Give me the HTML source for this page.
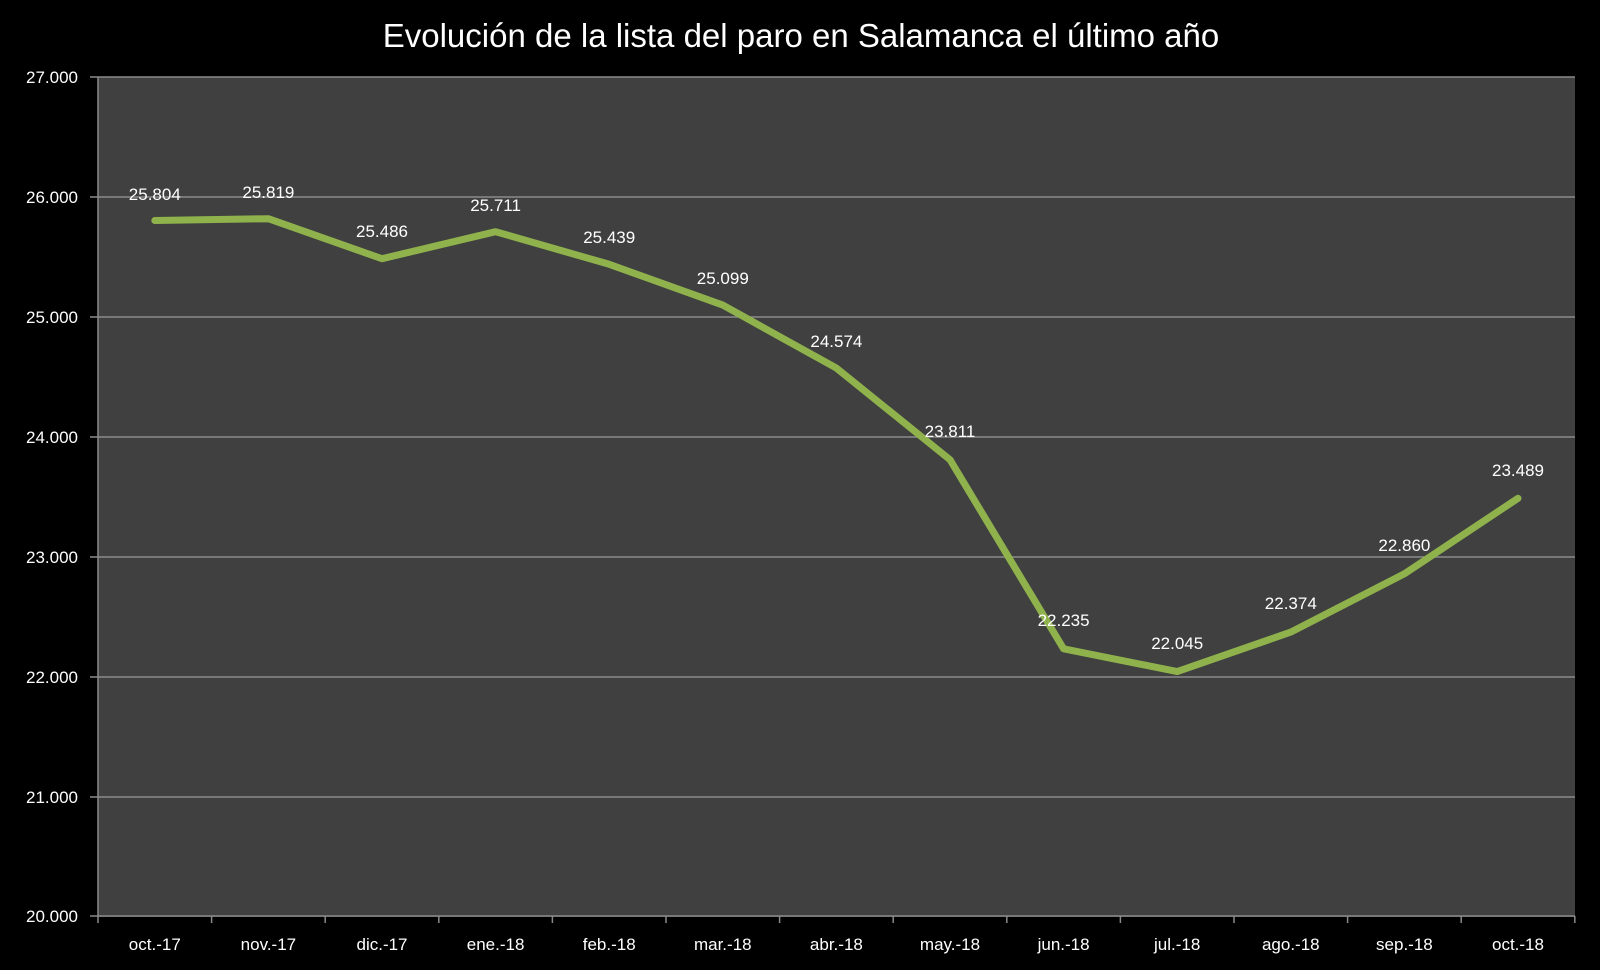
<!DOCTYPE html>
<html><head><meta charset="utf-8"><style>
html,body{margin:0;padding:0;background:#000;}
svg{display:block;}
text{font-family:"Liberation Sans",sans-serif;fill:#fff;}
</style></head><body>
<svg width="1600" height="970" viewBox="0 0 1600 970" xmlns="http://www.w3.org/2000/svg">
<rect width="1600" height="970" fill="#000"/>
<text x="801" y="47" font-size="33" text-anchor="middle">Evolución de la lista del paro en Salamanca el último año</text>
<rect x="98" y="77" width="1477" height="840" fill="#404040"/>
<g stroke="#8a8a8a" stroke-width="1.5">
<line x1="90" y1="77" x2="1575" y2="77"/>
<line x1="90" y1="197" x2="1575" y2="197"/>
<line x1="90" y1="317" x2="1575" y2="317"/>
<line x1="90" y1="437" x2="1575" y2="437"/>
<line x1="90" y1="557" x2="1575" y2="557"/>
<line x1="90" y1="677" x2="1575" y2="677"/>
<line x1="90" y1="797" x2="1575" y2="797"/>
<line x1="90" y1="916" x2="1575" y2="916"/>
<line x1="98" y1="77" x2="98" y2="923"/>
</g>
<g stroke="#8a8a8a" stroke-width="1.5">
<line x1="211.6" y1="916" x2="211.6" y2="923"/><line x1="325.2" y1="916" x2="325.2" y2="923"/><line x1="438.8" y1="916" x2="438.8" y2="923"/><line x1="552.4" y1="916" x2="552.4" y2="923"/><line x1="666" y1="916" x2="666" y2="923"/><line x1="779.6" y1="916" x2="779.6" y2="923"/><line x1="893.2" y1="916" x2="893.2" y2="923"/><line x1="1006.8" y1="916" x2="1006.8" y2="923"/><line x1="1120.4" y1="916" x2="1120.4" y2="923"/><line x1="1234" y1="916" x2="1234" y2="923"/><line x1="1347.6" y1="916" x2="1347.6" y2="923"/><line x1="1461.2" y1="916" x2="1461.2" y2="923"/><line x1="1574.8" y1="916" x2="1574.8" y2="923"/>
</g>
<g font-size="17" text-anchor="end">
<text x="78" y="83">27.000</text><text x="78" y="203">26.000</text><text x="78" y="323">25.000</text><text x="78" y="443">24.000</text><text x="78" y="563">23.000</text><text x="78" y="683">22.000</text><text x="78" y="803">21.000</text><text x="78" y="922">20.000</text>
</g>
<g font-size="17" text-anchor="middle">
<text x="154.8" y="950">oct.-17</text><text x="268.4" y="950">nov.-17</text><text x="382" y="950">dic.-17</text><text x="495.6" y="950">ene.-18</text><text x="609.2" y="950">feb.-18</text><text x="722.8" y="950">mar.-18</text><text x="836.4" y="950">abr.-18</text><text x="950" y="950">may.-18</text><text x="1063.6" y="950">jun.-18</text><text x="1177.2" y="950">jul.-18</text><text x="1290.8" y="950">ago.-18</text><text x="1404.4" y="950">sep.-18</text><text x="1518" y="950">oct.-18</text>
</g>
<polyline fill="none" stroke="#8fb24c" stroke-width="7" stroke-linejoin="round" stroke-linecap="round"
points="154.8,220.5 268.4,218.7 382,258.7 495.6,231.7 609.2,264.3 722.8,305.1 836.4,368.1 950,459.7 1063.6,648.8 1177.2,671.6 1290.8,632.1 1404.4,573.8 1518,498.3"/>
<g font-size="17" text-anchor="middle">
<text x="154.8" y="200">25.804</text><text x="268.4" y="198">25.819</text><text x="382" y="237">25.486</text><text x="495.6" y="211">25.711</text><text x="609.2" y="243">25.439</text><text x="722.8" y="284">25.099</text><text x="836.4" y="347">24.574</text><text x="950" y="437">23.811</text><text x="1063.6" y="626">22.235</text><text x="1177.2" y="649">22.045</text><text x="1290.8" y="609">22.374</text><text x="1404.4" y="551">22.860</text><text x="1518" y="476">23.489</text>
</g>
</svg>
</body></html>
